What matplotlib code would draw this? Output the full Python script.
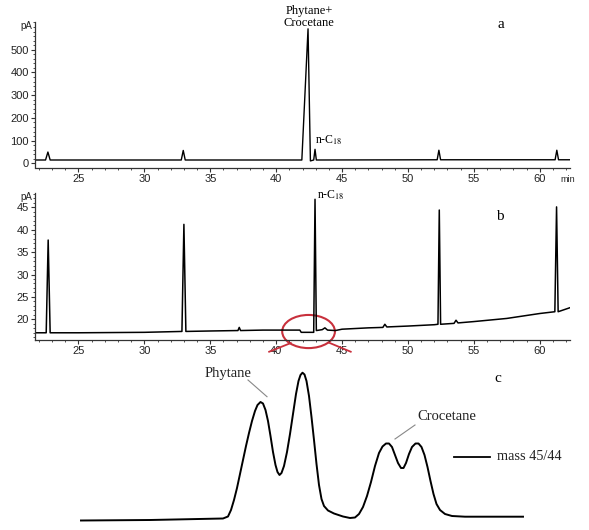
import matplotlib
matplotlib.use("Agg")
import matplotlib.pyplot as plt
from matplotlib.patches import Ellipse
from matplotlib.ticker import MultipleLocator
from matplotlib.transforms import blended_transform_factory

plt.rcParams['mathtext.fontset'] = 'stix'

# ---------------- data ----------------
# panel a: FID chromatogram (time in min, signal in pA)
a_time = [21.7, 22.5, 22.68, 22.85, 32.8, 32.95, 33.1, 41.95, 42.42, 42.6,
          42.85, 42.95, 43.05, 52.22, 52.35, 52.48, 61.17, 61.3, 61.43, 62.3]
a_signal = [15, 15, 50, 15, 15, 57, 15, 15, 592, 11,
            15, 62, 15, 16, 58, 16, 16, 58, 16, 16]

# panel b: zoomed chromatogram
b_time = [21.7, 22.55, 22.7, 22.85, 25, 30, 32.85, 33.0, 33.15, 35,
          37.1, 37.2, 37.3, 39, 40, 41.8, 41.9, 42.85, 42.95, 43.05,
          43.5, 43.7, 43.9, 44.5, 45, 47, 48.1, 48.25, 48.4, 50,
          52.0, 52.28, 52.38, 52.48, 53.5, 53.65, 53.8, 55, 57.5, 60,
          61.15, 61.28, 61.4, 62.3]
b_signal = [17.0, 17.0, 37.7, 17.0, 17.0, 17.1, 17.3, 41.2, 17.3, 17.4,
            17.5, 18.2, 17.5, 17.6, 17.6, 17.6, 17.1, 17.1, 46.8, 17.5,
            17.7, 18.1, 17.6, 17.5, 17.8, 18.1, 18.2, 18.9, 18.3, 18.5,
            18.8, 18.9, 44.4, 18.9, 19.1, 19.8, 19.2, 19.5, 20.2, 21.3,
            21.7, 45.1, 21.7, 22.6]

# panel c: mass 45/44 trace (arbitrary units)
c_x = [1, 70, 143, 148, 151, 154, 157, 160, 163, 166,
       169, 172, 175, 177.5, 180.5, 183, 185.5, 188, 190.5, 193,
       195.5, 197.5, 199.5, 201.5, 204, 207, 210, 213, 216, 218.5,
       220.5, 222.5, 224.5, 226.5, 229, 231.5, 234, 236.5, 239, 241.5,
       244, 248, 254, 263, 270, 275, 279, 283, 287, 291,
       295, 299, 302.5, 306, 309, 312, 315, 318, 321, 323.5,
       326, 329, 332, 335.5, 338.5, 341.5, 344.5, 347.5, 350.5, 353.5,
       356.5, 360, 365, 372, 385, 443]
c_y = [-0.5, 0, 1.5, 3.5, 10, 20, 32, 46, 60, 74,
       87, 99, 109, 115, 118, 116.5, 110, 99, 84, 68,
       55, 48, 45, 47, 54, 68, 86, 106, 126, 139,
       145, 147.3, 145.5, 139, 124, 103, 80, 56, 35, 21,
       14, 9.5, 6.5, 3.5, 2, 2.5, 6, 13, 24, 38,
       54, 67, 73.5, 76.5, 76.5, 73, 65, 57, 52, 52,
       57, 66, 73, 76.5, 76.5, 73, 65, 53, 39, 26,
       16, 10, 6, 4, 3.3, 3.3]

a_yticks = [0, 100, 200, 300, 400, 500]
b_yticks = [20, 25, 30, 35, 40, 45]
x_ticks = [25, 30, 35, 40, 45, 50, 55, 60]

SANS = 'Liberation Sans'
SERIF = 'Liberation Serif'
W, H = 589, 530

fig = plt.figure(figsize=(W / 100, H / 100), dpi=100)


def rect(l, r, b, t):
    return [l / W, 1 - b / H, (r - l) / W, (b - t) / H]


def style_axis(ax, ymin_loc):
    for s in ['top', 'right']:
        ax.spines[s].set_visible(False)
    for s in ['left', 'bottom']:
        ax.spines[s].set_color('#333333')
        ax.spines[s].set_linewidth(0.9)
    ax.set_xticks(x_ticks)
    ax.xaxis.set_minor_locator(MultipleLocator(1))
    ax.yaxis.set_minor_locator(MultipleLocator(ymin_loc))
    ax.tick_params(which='major', direction='out', length=3, width=0.8,
                   colors='#333333', labelsize=8, pad=1.5)
    ax.tick_params(which='minor', direction='out', length=1.6, width=0.6,
                   colors='#333333')
    for lab in ax.get_xticklabels() + ax.get_yticklabels():
        lab.set_fontfamily(SANS)
        lab.set_color('#222222')


# ---------------- panel a ----------------
ax_a = fig.add_axes(rect(35, 570, 167.5, 22))
ax_a.plot(a_time, a_signal, color='black', lw=1.0)
ax_a.set_xlim(21.7, 62.3)
ax_a.set_ylim(-18, 622)
ax_a.set_yticks(a_yticks)
style_axis(ax_a, 20)
tr_a = blended_transform_factory(ax_a.transAxes, ax_a.transData)
ax_a.text(-0.006, 606, 'pA', transform=tr_a, ha='right', va='center',
          fontsize=7, family=SANS, color='#222222')
ax_a.text(0.983, -0.05, 'min', transform=ax_a.transAxes, ha='left', va='top',
          fontsize=6.5, family=SANS, color='#222222')
ax_a.text(42.5, 645, 'Phytane+\nCrocetane', ha='center', va='center',
          fontsize=9, family=SERIF, linespacing=1.05, clip_on=False)
ax_a.text(57.05, 612, 'a', ha='center', va='center', fontsize=11,
          family=SERIF, clip_on=False)
ax_a.text(42.95, 100, r'n-C$_{18}$', ha='left', va='center', fontsize=8.5,
          family=SERIF)

# ---------------- panel b ----------------
ax_b = fig.add_axes(rect(35, 570, 339.5, 193))
ax_b.plot(b_time, b_signal, color='black', lw=1.1)
ax_b.set_xlim(21.7, 62.3)
ax_b.set_ylim(15.5, 48.2)
ax_b.set_yticks(b_yticks)
style_axis(ax_b, 1)
tr_b = blended_transform_factory(ax_b.transAxes, ax_b.transData)
ax_b.text(-0.006, 47.4, 'pA', transform=tr_b, ha='right', va='center',
          fontsize=7, family=SANS, color='#222222')
ax_b.text(57.0, 42.9, 'b', ha='center', va='center', fontsize=11,
          family=SERIF)
ax_b.text(43.1, 47.8, r'n-C$_{18}$', ha='left', va='center', fontsize=8.5,
          family=SERIF, clip_on=False)
red = '#c8303c'
ax_b.add_patch(Ellipse((42.46, 17.28), 4.0, 7.4, fill=False, edgecolor=red,
                       lw=1.5, clip_on=False))
ax_b.plot([41.11, 39.47], [14.71, 12.77], color=red, lw=1.3, clip_on=False)
ax_b.plot([44.02, 45.66], [14.78, 12.77], color=red, lw=1.3, clip_on=False)

# ---------------- panel c ----------------
ax_c = fig.add_axes(rect(80, 523, 520, 372.7))
ax_c.axis('off')
ax_c.set_xlim(0, 443)
ax_c.set_ylim(0, 147.3)
ax_c.plot(c_x, c_y, color='black', lw=1.4, clip_on=False,
          solid_joinstyle='round')
ax_c.text(148, 147, 'Phytane', ha='center', va='center', fontsize=10.5,
          family=SERIF, color='#222222', clip_on=False)
ax_c.plot([168, 187], [140, 123.3], color='#888888', lw=0.8, clip_on=False)
ax_c.text(366.7, 103.3, 'Crocetane', ha='center', va='center', fontsize=10.5,
          family=SERIF, color='#222222', clip_on=False)
ax_c.plot([335, 315], [95, 81], color='#888888', lw=0.8, clip_on=False)
ax_c.text(418, 142, 'c', ha='center', va='center', fontsize=11,
          family=SERIF, clip_on=False)
ax_c.plot([374, 410], [63, 63], color='black', lw=1.3, clip_on=False)
ax_c.text(417, 63, 'mass 45/44', ha='left', va='center', fontsize=10.3,
          family=SERIF, color='#222222', clip_on=False)

fig.savefig('out.png', dpi=100)
